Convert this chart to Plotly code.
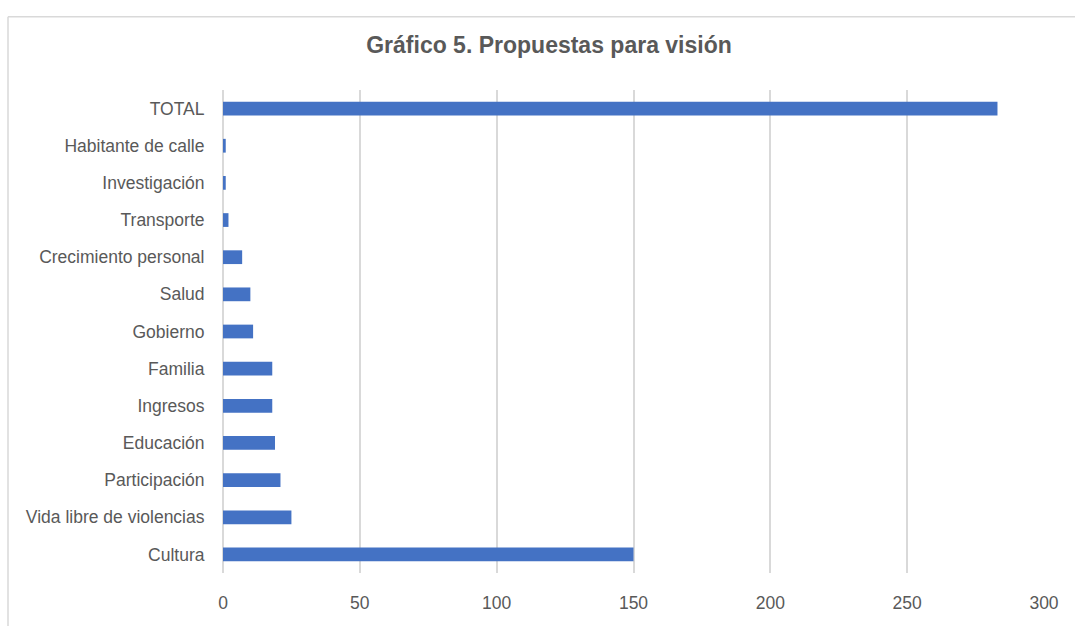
import plotly.graph_objects as go

categories = ["Cultura", "Vida libre de violencias", "Participación", "Educación",
              "Ingresos", "Familia", "Gobierno", "Salud", "Crecimiento personal",
              "Transporte", "Investigación", "Habitante de calle", "TOTAL"]
values = [150, 25, 21, 19, 18, 18, 11, 10, 7, 2, 1, 1, 283]
tick_vals = [0, 50, 100, 150, 200, 250, 300]

FONT = "Liberation Sans, Arial, sans-serif"
GREY = "#595959"

fig = go.Figure(go.Bar(
    x=values, y=categories, orientation="h",
    marker=dict(color="#4472C4", line=dict(width=0)),
    hoverinfo="x+y",
))

W, H = 1075, 626
L, R = 223, 1044
T, B = 89.5, 573.5

fig.update_layout(
    width=W, height=H,
    margin=dict(l=L, r=W - R, t=T, b=H - B),
    paper_bgcolor="white", plot_bgcolor="white",
    bargap=0.63,
    showlegend=False,
    title=dict(text="<b>Gráfico 5. Propuestas para visión</b>",
               x=549 / W, xanchor="center",
               y=1 - 45 / H, yanchor="middle",
               font=dict(family=FONT, size=23, color=GREY)),
    font=dict(family=FONT, size=17.5, color=GREY),
    xaxis=dict(range=[0, 300], tickvals=tick_vals, showgrid=True,
               gridcolor="#d9d9d9", gridwidth=1.5, zeroline=True,
               zerolinecolor="#d9d9d9", zerolinewidth=1.5,
               showline=False, ticks="", ticklen=0,
               tickfont=dict(family=FONT, size=17.5, color=GREY)),
    yaxis=dict(showgrid=False, showline=False, ticks="outside", ticklen=14,
               tickcolor="rgba(0,0,0,0)",
               tickfont=dict(family=FONT, size=17.5, color=GREY),
               automargin=False),
    shapes=[
        dict(type="line", xref="paper", yref="paper",
             x0=(8 - L) / (R - L), x1=(1075 - L) / (R - L),
             y0=(B - 16) / (B - T), y1=(B - 16) / (B - T),
             line=dict(color="#d9d9d9", width=1.5)),
        dict(type="line", xref="paper", yref="paper",
             x0=(8 - L) / (R - L), x1=(8 - L) / (R - L),
             y0=(B - 16) / (B - T), y1=(B - 640) / (B - T),
             line=dict(color="#d9d9d9", width=1.5)),
    ],
)
fig.update_xaxes(ticklabelstandoff=17)

fig.write_html("out.html")
